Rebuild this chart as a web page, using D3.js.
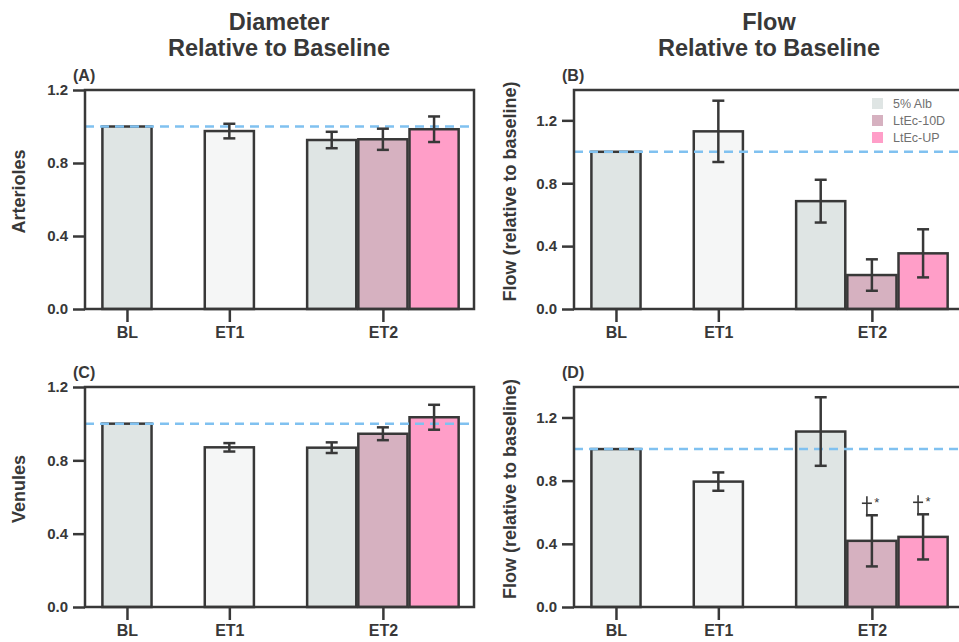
<!DOCTYPE html>
<html>
<head>
<meta charset="utf-8">
<script src="https://cdn.jsdelivr.net/npm/d3@7"></script>
<style>
  body { margin: 0; background: #fff; }
  svg { display: block; font-family: "Liberation Sans", Arial, sans-serif; }
</style>
</head>
<body>
<main></main>
<script>
// groups on the x axis and the treatments
const categories = ["BL", "ET1", "ET2"];
const treatments = ["5% Alb", "LtEc-10D", "LtEc-UP"];
const yTicks = [0, 0.4, 0.8, 1.2];

// bar order: BL, ET1, ET2 5% Alb, ET2 LtEc-10D, ET2 LtEc-UP
const arterioleDiam    = [1.0, 0.975, 0.926, 0.930, 0.985];
const arterioleDiamErr = [0, 0.040, 0.045, 0.058, 0.070];
const arterioleFlow    = [1.0, 1.130, 0.686, 0.216, 0.354];
const arterioleFlowErr = [0, 0.195, 0.136, 0.100, 0.153];
const venuleDiam       = [1.0, 0.871, 0.869, 0.945, 1.035];
const venuleDiamErr    = [0, 0.023, 0.029, 0.035, 0.068];
const venuleFlow       = [1.0, 0.794, 1.111, 0.419, 0.444];
const venuleFlowErr    = [0, 0.058, 0.217, 0.162, 0.143];
// significance marks (dagger + asterisk) on the LtEc bars of panel D
const venuleFlowSig    = [false, false, false, true, true];

const w = 959, h = 642,
  ink = "#383838",
  fills = ["#dfe5e4", "#f5f6f6", "#dfe5e4", "#d6b1c0", "#ff9ec8"],
  treatColors = ["#dfe5e4", "#d6b1c0", "#ff9ec8"];

// bar i -> category and treatment
const barCat = [0, 1, 2, 2, 2];
const barTreat = [0, 0, 0, 1, 2];
const catCenter = [0, 1, 2.5];

const svg = d3.select("main").append("svg")
  .attr("width", w).attr("height", h);

function panel(o) {
  const x = d3.scaleLinear().domain([-0.41, 3.39]).range([o.left, o.left + 389]);
  const y = d3.scaleLinear().domain([0, o.ymax]).range([o.bottom, o.top]);
  const g = svg.append("g");
  const bw = x(0.48) - x(0);
  const bx = (i) => x(catCenter[barCat[i]] + (barCat[i] === 2 ? (barTreat[i] - 1) * 0.5 : 0));

  // bars
  g.selectAll("rect.bar")
    .data(o.values)
    .enter().append("rect")
    .attr("x", (d, i) => bx(i) - bw / 2)
    .attr("y", (d) => y(d))
    .attr("width", bw)
    .attr("height", (d) => y(0) - y(d))
    .attr("fill", (d, i) => fills[i])
    .attr("stroke", ink)
    .attr("stroke-width", 2.5);

  // baseline reference
  g.append("line")
    .attr("x1", x.range()[0]).attr("x2", x.range()[1])
    .attr("y1", y(1)).attr("y2", y(1))
    .attr("stroke", "#80c1f0").attr("stroke-width", 2.5)
    .attr("stroke-dasharray", "9,6");

  // error bars
  o.values.forEach((v, i) => {
    const e = o.errs[i];
    if (!e) return;
    const cx = bx(i);
    g.append("line").attr("x1", cx).attr("x2", cx)
      .attr("y1", y(v - e)).attr("y2", y(v + e))
      .attr("stroke", ink).attr("stroke-width", 2.5);
    [v - e, v + e].forEach((t) => {
      g.append("line").attr("x1", cx - 6).attr("x2", cx + 6)
        .attr("y1", y(t)).attr("y2", y(t))
        .attr("stroke", ink).attr("stroke-width", 2.5);
    });
    if (o.sig && o.sig[i]) {
      const top = y(v + e);
      // dagger drawn as strokes, its foot joins the cap
      g.append("line").attr("x1", cx - 5).attr("x2", cx - 5)
        .attr("y1", top - 19).attr("y2", top + 1)
        .attr("stroke", ink).attr("stroke-width", 1.6);
      g.append("line").attr("x1", cx - 10).attr("x2", cx)
        .attr("y1", top - 12).attr("y2", top - 12)
        .attr("stroke", ink).attr("stroke-width", 1.6);
      g.append("text").attr("x", cx + 5).attr("y", top - 8)
        .attr("text-anchor", "middle").attr("fill", ink)
        .style("font-size", "13px").text("*");
    }
  });

  // frame
  g.append("rect")
    .attr("x", x.range()[0]).attr("y", y.range()[1])
    .attr("width", x.range()[1] - x.range()[0])
    .attr("height", y.range()[0] - y.range()[1])
    .attr("fill", "none").attr("stroke", ink).attr("stroke-width", 2.5);

  // axes
  const yAxis = d3.axisLeft(y).tickValues(yTicks).tickFormat(d3.format(".1f"))
    .tickSize(12).tickPadding(5);
  const ya = g.append("g").attr("transform", "translate(" + o.left + ",0)").call(yAxis);
  const xAxis = d3.axisBottom(d3.scaleOrdinal().domain(categories).range(catCenter.map(x)))
    .tickSize(13).tickPadding(5);
  const xa = g.append("g").attr("transform", "translate(0," + o.bottom + ")").call(xAxis);
  [ya, xa].forEach((a) => {
    a.select(".domain").remove();
    a.selectAll("line").attr("stroke", ink).attr("stroke-width", 2.5);
    a.selectAll("text").attr("fill", ink)
      .style("font-size", "15px").style("font-weight", "bold")
      .style("font-family", "'Liberation Sans', Arial, sans-serif");
  });
  xa.selectAll("text").style("font-size", "16px");

  // panel letter
  g.append("text").attr("x", o.left - 12).attr("y", o.top - 9)
    .attr("fill", ink).style("font-size", "16px").style("font-weight", "bold")
    .text(o.letter);

  // y title
  g.append("text")
    .attr("transform", "translate(" + o.labelX + "," + ((o.top + o.bottom) / 2 - 8) + ") rotate(-90)")
    .attr("text-anchor", "middle").attr("fill", ink)
    .style("font-size", "18px").style("font-weight", "bold")
    .text(o.ylabel);

  return { x, y, g };
}

panel({ left: 85, top: 90, bottom: 309, ymax: 1.2, values: arterioleDiam, errs: arterioleDiamErr, letter: "(A)", ylabel: "Arterioles", labelX: 25 });
panel({ left: 574, top: 90, bottom: 309, ymax: 1.393, values: arterioleFlow, errs: arterioleFlowErr, letter: "(B)", ylabel: "Flow (relative to baseline)", labelX: 516 });
panel({ left: 85, top: 387, bottom: 607, ymax: 1.2, values: venuleDiam, errs: venuleDiamErr, letter: "(C)", ylabel: "Venules", labelX: 25 });
panel({ left: 574, top: 387, bottom: 607, ymax: 1.393, values: venuleFlow, errs: venuleFlowErr, sig: venuleFlowSig, letter: "(D)", ylabel: "Flow (relative to baseline)", labelX: 516 });

// legend in panel B
const leg = svg.append("g").attr("transform", "translate(872,98)");
treatments.forEach((t, i) => {
  leg.append("rect").attr("x", 0).attr("y", i * 17).attr("width", 11).attr("height", 11)
    .attr("fill", treatColors[i]);
  leg.append("text").attr("x", 21).attr("y", i * 17 + 10)
    .attr("fill", "#707070").style("font-size", "12.5px").text(t);
});

// column titles
[["Diameter", 279], ["Flow", 769]].forEach(([t, cx]) => {
  const tt = svg.append("text").attr("text-anchor", "middle").attr("fill", ink)
    .style("font-size", "23.5px").style("font-weight", "bold");
  tt.append("tspan").attr("x", cx).attr("y", 30).text(t);
  tt.append("tspan").attr("x", cx).attr("y", 56).text("Relative to Baseline");
});
</script>
</body>
</html>
